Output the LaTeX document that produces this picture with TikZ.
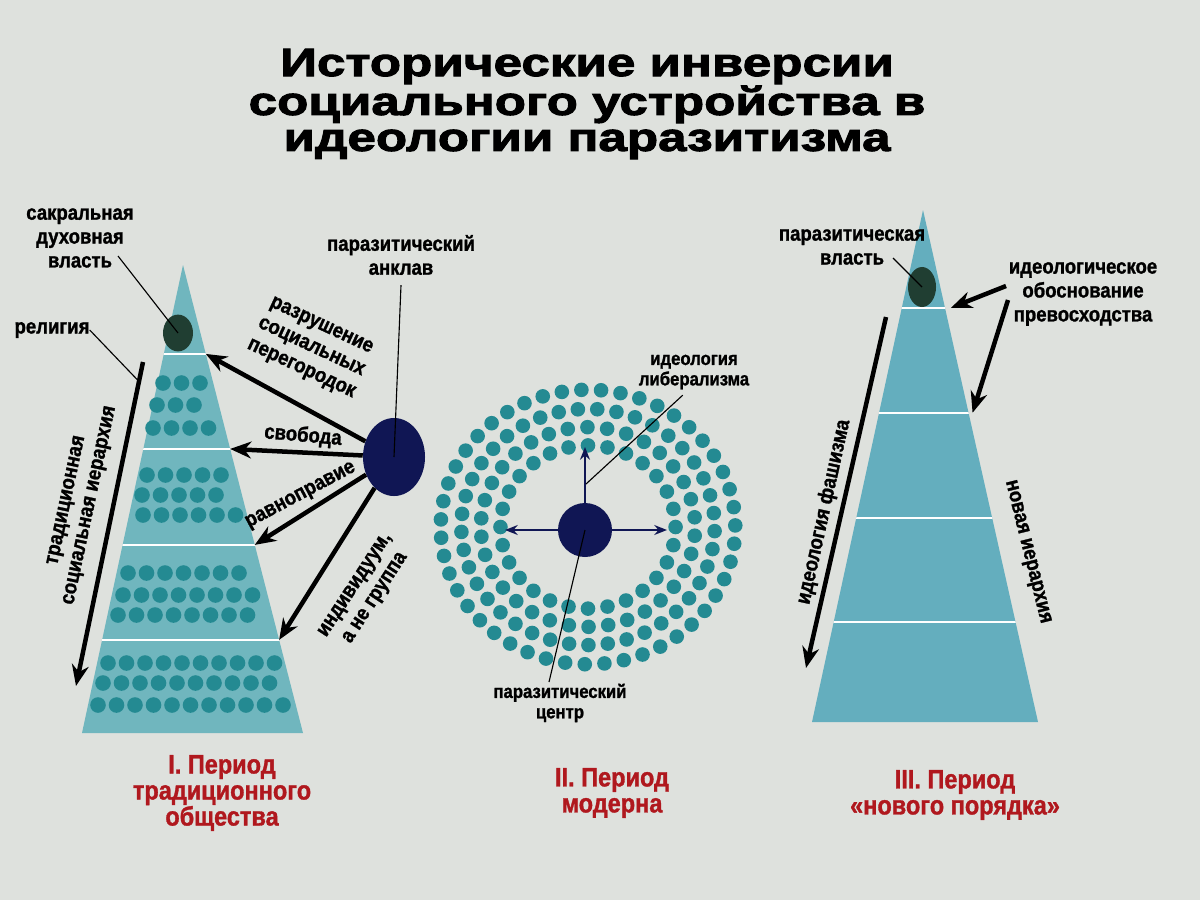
\documentclass[tikz,border=0pt]{standalone}
\usepackage{fontspec}
\setmainfont{Liberation Sans}
\newfontfamily\narrowfont[FakeStretch=0.88,FakeBold=1.2]{Liberation Sans}
\newfontfamily\titlefont[FakeStretch=1.3,FakeBold=2.6]{Liberation Sans}
\usetikzlibrary{arrows.meta,calc,shapes.geometric}
\definecolor{paper}{RGB}{222,225,221}
\definecolor{tealA}{RGB}{112,182,190}
\definecolor{tealB}{RGB}{100,174,190}
\definecolor{dotc}{RGB}{36,138,146}
\definecolor{navy}{RGB}{16,22,84}
\definecolor{dkgreen}{RGB}{32,62,50}
\definecolor{redlbl}{RGB}{176,24,30}
\tikzset{>=stealth,
  lbl/.style={font=\narrowfont\bfseries\fontsize{15}{17}\selectfont, align=center, inner sep=0pt},
  midlbl/.style={lbl, font=\narrowfont\bfseries\fontsize{13.5}{14.5}\selectfont},
  period/.style={font=\narrowfont\bfseries\fontsize{19}{18.5}\selectfont, text=redlbl, align=center, inner sep=0pt},
  lead/.style={line width=0.8pt},
  push/.style={line width=3.2pt, -{Stealth[length=15pt,width=12pt]}},
  ray/.style={draw=navy, line width=1.6pt, -{Stealth[length=9pt,width=7pt]}},
  dot/.style={fill=dotc},
  band/.style={white, line width=1.5pt},
}

\begin{document}
\begin{tikzpicture}[x=0.025cm, y=-0.025cm]
\fill[paper] (0,0) rectangle (1200,900);
\useasboundingbox (0,0) rectangle (1200,900);

% title
\node[font=\titlefont\bfseries\fontsize{28}{25.6}\selectfont, align=center] (title) at (587,104)
  {Исторические инверсии\\социального устройства в\\идеологии паразитизма};

% I. traditional society
\coordinate (aL) at (183,265);
\coordinate (blL) at (82,733);
\coordinate (brL) at (303,733);
\fill[tealA] (aL) -- (blL) -- (brL) -- cycle;
\begin{scope}
  \clip (aL) -- (blL) -- (brL) -- cycle;
  \foreach \y in {354,449,545,640} \draw[band] (0,\y) -- (400,\y);
\end{scope}
\foreach \y/\xa/\cnt in {383/163/3, 405/157/3, 428/153/4, 475/147/5, 495/142/5, 515/143/6,
    573/128/7, 595/123/8, 615/118/8, 663/108/10, 683/103/10, 705/98/11}
  \foreach \i in {1,...,\cnt}
    \fill[dot] (\xa+18.5*\i-18.5,\y) circle (7.8);
\node[ellipse, fill=dkgreen, minimum width=0.75cm, minimum height=0.92cm, inner sep=0] (elL) at (178,333) {};
\coordinate (b1) at ($(aL)!0.190!(brL)$);
\coordinate (b2) at ($(aL)!0.393!(brL)$);
\coordinate (b3) at ($(aL)!0.598!(brL)$);
\coordinate (b4) at ($(aL)!0.801!(brL)$);

\node[lbl] (sak) at (80,238) {сакральная\\духовная\\власть};
\coordinate (sakend) at (118,256);
\draw[lead] (sakend) -- (elL.center);
\node[lbl] (rel) at (52,330) {религия};
\coordinate (hierTop) at (143,362);
\coordinate (hierBot) at (76,686);
\draw[lead] (rel.east) -- ($(hierTop)!0.06!(hierBot)$);
\draw[push] (hierTop) -- (hierBot);
\node[lbl, rotate=78] (hier) at (79,503) {традиционная\\социальная иерархия};

% parasitic enclave
\node[ellipse, fill=navy, minimum width=1.55cm, minimum height=1.95cm, inner sep=0] (enc) at (394,457) {};
\node[lbl] (encl) at (401,255) {паразитический\\анклав};
\draw[lead] ([yshift=-7pt]encl.south) -- (enc.center);
\draw[push] (enc) -- (b1);
\draw[push] (enc) -- (b2);
\draw[push] (enc) -- (b3);
\draw[push] (enc) -- (b4);
\node[lbl, rotate=-25] (razr) at (311,348) {разрушение\\социальных\\перегородок};
\node[lbl, rotate=-5] (svob) at (303,436) {свобода};
\node[lbl, rotate=28] (ravn) at (301,496) {равноправие};
\node[lbl, rotate=57] (indiv) at (366,592) {индивидуум,\\а не группа};

% II. modernity
\foreach \r/\ph in {85/0, 104/5, 123/2, 143/7} {
  \pgfmathtruncatemacro\m{round(2*pi*\r/19)}
  \pgfmathsetmacro\stp{360/\m}
  \foreach \j in {1,...,\m}
    \fill[dot] ({588+1.03*\r*cos(\ph+\stp*\j)},{527+0.96*\r*sin(\ph+\stp*\j)}) circle (7.3);
}
\node[circle, fill=navy, minimum size=1.35cm, inner sep=0] (pc) at (585,530) {};
\coordinate (up) at (585,447);
\coordinate (lt) at (505,530);
\coordinate (rt) at (667,530);
\draw[ray] (pc) -- (up);
\draw[ray] (pc) -- (lt);
\draw[ray] (pc) -- (rt);
\node[midlbl] (lib) at (694,372) {идеология\\либерализма};
\coordinate (libend) at (586,484);
\draw[lead] ([xshift=-8pt,yshift=-4pt]lib.south) -- (libend);
\node[midlbl] (cen) at (560,703) {паразитический\\центр};
\coordinate (cenend) at (549,682);
\draw[lead] (pc.center) -- (cenend);

% III. new order
\coordinate (aR) at (923,210);
\coordinate (blR) at (812,722);
\coordinate (brR) at (1038,722);
\fill[tealB] (aR) -- (blR) -- (brR) -- cycle;
\begin{scope}
  \clip (aR) -- (blR) -- (brR) -- cycle;
  \foreach \y in {308,413,518,622} \draw[band] (780,\y) -- (1080,\y);
\end{scope}
\node[ellipse, fill=dkgreen, minimum width=0.7cm, minimum height=1cm, inner sep=0] (elR) at (922,287) {};
\coordinate (r1) at ($(aR)!0.191!(brR)+(6,0)$);
\coordinate (r2) at ($(aR)!0.396!(brR)+(4,0)$);

\node[lbl] (pvl) at (852,247) {паразитическая\\власть};
\coordinate (pvlend) at (893,258);
\draw[lead] (pvlend) -- (elR.center);
\node[lbl] (ideo) at (1083,294) {идеологическое\\обоснование\\превосходства};
\coordinate (ideoA) at (1006,286);
\coordinate (ideoB) at (1008,300);
\draw[push] (ideoA) -- (r1);
\draw[push] (ideoB) -- (r2);
\coordinate (fasTop) at (886,317);
\coordinate (fasBot) at (806,668);
\draw[push] (fasTop) -- (fasBot);
\node[lbl, rotate=77.6] (fas) at (824,512) {идеология фашизма};
\node[lbl, rotate=-76] (nov) at (1027,552) {новая иерархия};

% periods
\node[period] (p1) at (222,793) {I. Период\\традиционного\\общества};
\node[period] (p2) at (612,793) {II. Период\\модерна};
\node[period] (p3) at (955,795) {III. Период\\«нового порядка»};
\end{tikzpicture}
\end{document}
